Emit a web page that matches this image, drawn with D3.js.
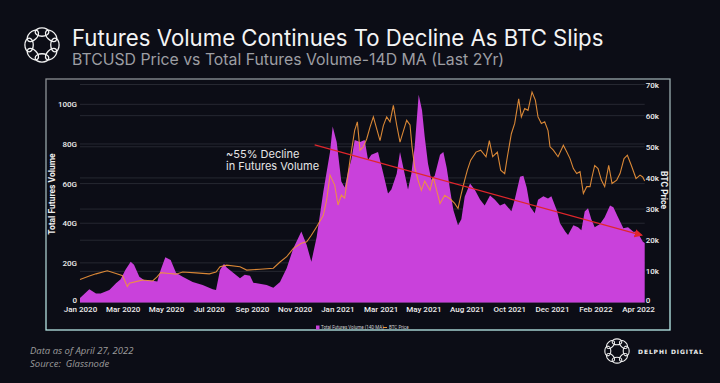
<!DOCTYPE html>
<html>
<head>
<meta charset="utf-8">
<script src="https://cdn.jsdelivr.net/npm/d3@7"></script>
<style>
  html, body { margin: 0; padding: 0; background: #0c0d16; }
  svg { display: block; }
</style>
</head>
<body>
<svg id="chart" width="720" height="383"></svg>
<script>
// Total futures volume, 14D MA (billions USD)
const volDates = [
  '2020-01-01', '2020-01-15', '2020-01-25', '2020-02-01', '2020-02-14', '2020-02-24', '2020-03-02', '2020-03-09',
  '2020-03-17', '2020-03-22', '2020-03-30', '2020-04-06', '2020-04-19', '2020-04-26', '2020-05-01', '2020-05-08',
  '2020-05-16', '2020-05-24', '2020-06-03', '2020-06-18', '2020-07-03', '2020-07-18', '2020-07-23', '2020-07-29',
  '2020-08-04', '2020-08-08', '2020-08-28', '2020-09-04', '2020-09-12', '2020-09-17', '2020-10-07', '2020-10-17',
  '2020-10-27', '2020-11-06', '2020-11-16', '2020-11-28', '2020-12-06', '2020-12-13', '2020-12-21', '2020-12-31',
  '2021-01-10', '2021-01-14', '2021-01-20', '2021-01-27', '2021-02-01', '2021-02-06', '2021-02-11', '2021-02-16',
  '2021-02-24', '2021-03-03', '2021-03-08', '2021-03-13', '2021-03-23', '2021-03-31', '2021-04-07', '2021-04-12',
  '2021-04-20', '2021-04-25', '2021-04-30', '2021-05-07', '2021-05-12', '2021-05-17', '2021-05-23', '2021-05-28',
  '2021-06-01', '2021-06-06', '2021-06-11', '2021-06-16', '2021-06-24', '2021-06-29', '2021-07-04', '2021-07-09',
  '2021-07-14', '2021-07-21', '2021-07-26', '2021-07-31', '2021-08-08', '2021-08-15', '2021-08-23', '2021-08-30',
  '2021-09-07', '2021-09-14', '2021-09-22', '2021-09-29', '2021-10-09', '2021-10-14', '2021-10-22', '2021-10-27',
  '2021-11-01', '2021-11-06', '2021-11-13', '2021-11-18', '2021-11-26', '2021-12-03', '2021-12-08', '2021-12-16',
  '2021-12-21', '2021-12-29', '2022-01-02', '2022-01-10', '2022-01-17', '2022-01-22', '2022-01-27', '2022-02-01',
  '2022-02-06', '2022-02-11', '2022-02-19', '2022-02-26', '2022-03-06', '2022-03-11', '2022-03-18', '2022-03-26',
  '2022-04-02', '2022-04-10', '2022-04-15', '2022-04-20', '2022-04-24', '2022-04-27'
];
const volValues = [
  2.3, 6.7, 4.6, 4.6, 6.3, 9.7, 11.7, 16.4,
  20.6, 19, 13, 11.3, 11, 10.6, 16.4, 22.8,
  21.5, 15, 13, 10.4, 8.8, 6.7, 6.3, 16.4,
  19.6, 17.6, 12.2, 14, 13.5, 10, 8.8, 7.5,
  10.4, 17.3, 27.4, 35.8, 29, 20.6, 33, 56,
  76, 88.8, 81, 61, 58, 66, 72, 82,
  81, 82, 72, 74.5, 76, 65, 55, 57,
  65, 76, 68, 57, 65, 78.7, 104.8, 97,
  83.7, 70, 62, 64, 74.5, 76, 68, 57,
  46.7, 39, 42, 53.4, 60, 57, 52, 49,
  54, 52, 49, 50, 46, 51.8, 63.5, 64,
  58, 48.4, 45, 51.8, 53.6, 52.5, 53.6, 46.7,
  40, 35.7, 34, 39, 38, 36.5, 45.9, 47.6,
  42, 38, 39.6, 43, 49, 48, 43, 37.5,
  38, 35.7, 35.7, 33.2, 30.8, 30
];

// BTC price (thousands USD)
const priceDates = [
  '2020-01-01', '2020-01-15', '2020-01-25', '2020-02-11', '2020-02-24', '2020-03-05', '2020-03-12', '2020-03-15',
  '2020-03-25', '2020-04-04', '2020-04-19', '2020-04-26', '2020-05-01', '2020-05-14', '2020-05-24', '2020-06-03',
  '2020-06-23', '2020-07-13', '2020-07-23', '2020-07-29', '2020-08-08', '2020-08-28', '2020-09-07', '2020-09-27',
  '2020-10-17', '2020-10-27', '2020-11-06', '2020-11-16', '2020-11-28', '2020-12-06', '2020-12-13', '2020-12-21',
  '2020-12-31', '2021-01-05', '2021-01-10', '2021-01-17', '2021-01-22', '2021-01-27', '2021-02-01', '2021-02-09',
  '2021-02-16', '2021-02-20', '2021-02-24', '2021-03-01', '2021-03-06', '2021-03-11', '2021-03-16', '2021-03-26',
  '2021-03-31', '2021-04-05', '2021-04-10', '2021-04-15', '2021-04-20', '2021-04-25', '2021-04-30', '2021-05-05',
  '2021-05-10', '2021-05-13', '2021-05-17', '2021-05-22', '2021-05-27', '2021-06-01', '2021-06-09', '2021-06-14',
  '2021-06-19', '2021-06-24', '2021-07-01', '2021-07-09', '2021-07-16', '2021-07-21', '2021-07-26', '2021-07-31',
  '2021-08-04', '2021-08-09', '2021-08-17', '2021-08-24', '2021-09-01', '2021-09-06', '2021-09-11', '2021-09-18',
  '2021-09-23', '2021-09-29', '2021-10-03', '2021-10-09', '2021-10-14', '2021-10-20', '2021-10-24', '2021-10-29',
  '2021-11-03', '2021-11-09', '2021-11-14', '2021-11-18', '2021-11-23', '2021-11-28', '2021-12-03', '2021-12-06',
  '2021-12-11', '2021-12-18', '2021-12-26', '2021-12-31', '2022-01-05', '2022-01-10', '2022-01-15', '2022-01-20',
  '2022-01-25', '2022-01-30', '2022-02-04', '2022-02-07', '2022-02-11', '2022-02-16', '2022-02-21', '2022-02-26',
  '2022-03-04', '2022-03-09', '2022-03-16', '2022-03-21', '2022-03-27', '2022-04-01', '2022-04-07', '2022-04-14',
  '2022-04-20', '2022-04-24', '2022-04-27'
];
const priceValues = [
  7.4, 8.5, 9.2, 10.2, 9.3, 8.6, 5.1, 6.2,
  6.7, 7.2, 6.9, 8.3, 9.6, 9.3, 9.1, 9.8,
  9.5, 9.2, 9.8, 11.5, 12, 11.5, 10.4, 10.7,
  11, 13, 14.7, 17.4, 19, 19.5, 21.6, 24.3,
  28, 33, 40.9, 37.7, 31.3, 34.5, 33.5, 45.7,
  55.3, 58, 48.9, 50, 52.5, 56.3, 59.6, 52,
  56.8, 59.6, 58, 63.3, 57, 51.5, 55, 58.5,
  57, 50, 43.5, 39.3, 36, 39, 36, 40.3,
  36, 31.8, 34.4, 33.3, 31.8, 30.2, 35, 39.3,
  42.5, 45.7, 48.3, 48.9, 46.8, 52, 46.8, 48.3,
  42.5, 41.4, 46.8, 54.2, 57.5, 65.4, 59.6, 62.3,
  61.7, 67.6, 65, 59.6, 57.5, 58, 55.2, 50,
  48.9, 46.8, 50.5, 48.4, 46.2, 43, 41.4, 42,
  35, 37.2, 37.2, 40.3, 44, 43, 39.3, 37.2,
  44, 38.2, 39.3, 41.4, 46.2, 47.3, 44, 39.8,
  40.9, 40.3, 39
];

// "~55% decline" trend arrow (start / end on the volume axis)
const trendDates = ['2020-12-18', '2022-04-22'];
const trendValues = [79.5, 34];

// axes
const xTickDates = ['2020-01-01', '2020-03-05', '2020-05-09', '2020-07-12', '2020-09-15', '2020-11-18', '2021-01-21',
  '2021-03-27', '2021-05-30', '2021-08-03', '2021-10-06', '2021-12-09', '2022-02-12', '2022-04-17'];
const xTickLabels = ['Jan 2020', 'Mar 2020', 'May 2020', 'Jul 2020', 'Sep 2020', 'Nov 2020', 'Jan 2021',
  'Mar 2021', 'May 2021', 'Aug 2021', 'Oct 2021', 'Dec 2021', 'Feb 2022', 'Apr 2022'];
const volTicks = [0, 20, 40, 60, 80, 100];
const volTickLabels = ['0', '20G', '40G', '60G', '80G', '100G'];
const priceTicks = [0, 10, 20, 30, 40, 50, 60, 70];
const priceTickLabels = ['0', '10k', '20k', '30k', '40k', '50k', '60k', '70k'];

const parse = d3.timeParse('%Y-%m-%d');
const volData = d3.zip(volDates.map(parse), volValues);
const priceData = d3.zip(priceDates.map(parse), priceValues);

const svg = d3.select('#chart');
const plot = { left: 80, right: 644.7, top: 84.5, bottom: 302.5 };

const x = d3.scaleTime()
  .domain([parse('2020-01-01'), parse('2022-04-27')])
  .range([plot.left, plot.right]);
const yVol = d3.scaleLinear().domain([0, 110]).range([plot.bottom, plot.top]);
const yPrice = d3.scaleLinear().domain([0, 70]).range([plot.bottom, plot.top]);

const defs = svg.append('defs');
const grad = defs.append('linearGradient')
  .attr('id', 'frame-grad')
  .attr('x1', 0).attr('y1', 0).attr('x2', 0.3).attr('y2', 1);
grad.append('stop').attr('offset', '0%').attr('stop-color', '#8a8d92');
grad.append('stop').attr('offset', '100%').attr('stop-color', '#b9ecea');

svg.append('rect').attr('width', 720).attr('height', 383).attr('fill', '#0c0d16');

// delphi ring logo
function ringLogo(cx, cy, r, sw) {
  const g = svg.append('g').attr('transform', `translate(${cx},${cy})`);
  d3.range(8).forEach((i) => {
    const a = (i * 360) / 8;
    g.append('ellipse')
      .attr('transform', `rotate(${a}) translate(0,${-r * 0.68})`)
      .attr('rx', r * 0.36)
      .attr('ry', r * 0.22)
      .attr('fill', 'none')
      .attr('stroke', '#f2f2f2')
      .attr('stroke-width', sw);
  });
}

ringLogo(42, 45, 19, 1.3);
ringLogo(617, 351, 13.5, 1.1);

svg.append('text')
  .attr('x', 72).attr('y', 46)
  .attr('fill', '#f4f4f4')
  .style('font-family', 'Inter, "Noto Sans", sans-serif')
  .style('font-size', '22.2px')
  .text('Futures Volume Continues To Decline As BTC Slips');

svg.append('text')
  .attr('x', 72).attr('y', 65)
  .attr('fill', '#9d9ea3')
  .style('font-family', 'Inter, "Noto Sans", sans-serif')
  .style('font-size', '15.8px')
  .text('BTCUSD Price vs Total Futures Volume-14D MA (Last 2Yr)');

// chart frame
svg.append('rect')
  .attr('x', 46).attr('y', 79)
  .attr('width', 624).attr('height', 251)
  .attr('fill', '#0c0d16')
  .attr('stroke', 'url(#frame-grad)')
  .attr('stroke-width', 1.3);

// grid lines for both axes
svg.append('g')
  .selectAll('line')
  .data(volTicks.concat([110]))
  .join('line')
  .attr('x1', plot.left).attr('x2', plot.right)
  .attr('y1', (d) => yVol(d)).attr('y2', (d) => yVol(d))
  .attr('stroke', '#262831')
  .attr('stroke-width', 1);

svg.append('g')
  .selectAll('line')
  .data(priceTicks)
  .join('line')
  .attr('x1', plot.left).attr('x2', plot.right)
  .attr('y1', (d) => yPrice(d)).attr('y2', (d) => yPrice(d))
  .attr('stroke', '#262831')
  .attr('stroke-width', 1);

// volume area
const area = d3.area()
  .x((d) => x(d[0]))
  .y0(yVol(0))
  .y1((d) => yVol(d[1]));

svg.append('path')
  .datum(volData)
  .attr('fill', '#c941db')
  .attr('d', area);

// price line
const line = d3.line()
  .x((d) => x(d[0]))
  .y((d) => yPrice(d[1]));

svg.append('path')
  .datum(priceData)
  .attr('fill', 'none')
  .attr('stroke', '#f0953a')
  .attr('stroke-opacity', 0.9)
  .attr('stroke-width', 1.1)
  .attr('d', line);

// trend arrow
defs.append('marker')
  .attr('id', 'arrow')
  .attr('viewBox', '0 0 10 10')
  .attr('refX', 8).attr('refY', 5)
  .attr('markerWidth', 7).attr('markerHeight', 7)
  .attr('orient', 'auto')
  .append('path')
  .attr('d', 'M0,0 L10,5 L0,10 z')
  .attr('fill', '#e0262b');

svg.append('line')
  .attr('x1', x(parse(trendDates[0]))).attr('y1', yVol(trendValues[0]))
  .attr('x2', x(parse(trendDates[1]))).attr('y2', yVol(trendValues[1]))
  .attr('stroke', '#e0262b')
  .attr('stroke-width', 1.2)
  .attr('marker-end', 'url(#arrow)');

const noteFont = 'Inter, "Noto Sans", sans-serif';
svg.append('text')
  .attr('x', 226).attr('y', 157.5)
  .attr('fill', '#e6e6e6')
  .style('font-family', noteFont)
  .style('font-size', '11px')
  .text('~55% Decline');
svg.append('text')
  .attr('x', 226).attr('y', 170)
  .attr('fill', '#e6e6e6')
  .style('font-family', noteFont)
  .style('font-size', '11px')
  .text('in Futures Volume');

// axes
const tickFont = 'Roboto, "Noto Sans", sans-serif';

const xAxis = d3.axisBottom(x)
  .tickValues(xTickDates.map(parse))
  .tickFormat((d, i) => xTickLabels[i])
  .tickSize(0)
  .tickPadding(4);

const gx = svg.append('g').attr('transform', `translate(0,${plot.bottom})`).call(xAxis);

const gl = svg.append('g').attr('transform', `translate(${plot.left - 1},0)`)
  .call(d3.axisLeft(yVol).tickValues(volTicks).tickFormat((d, i) => volTickLabels[i]).tickSize(0).tickPadding(2));

const gr = svg.append('g').attr('transform', `translate(${plot.right},0)`)
  .call(d3.axisRight(yPrice).tickValues(priceTicks).tickFormat((d, i) => priceTickLabels[i]).tickSize(0).tickPadding(1));

[gx, gl, gr].forEach((g) => {
  g.select('.domain').remove();
  g.selectAll('text')
    .attr('fill', '#ececec')
    .style('font-family', tickFont)
    .style('font-size', '8px')
    .style('font-weight', 500);
});
// lift the zero labels so they clear the date labels
gl.selectAll('.tick text').filter((d) => d === 0).attr('dy', '-0.05em');
gr.selectAll('.tick text').filter((d) => d === 0).attr('dy', '-0.05em');

svg.append('text')
  .attr('transform', 'translate(55,194) rotate(-90)')
  .attr('text-anchor', 'middle')
  .attr('fill', '#f0f0f0')
  .style('font-family', tickFont)
  .style('font-size', '8.5px')
  .style('font-weight', 700)
  .text('Total Futures Volume');

svg.append('text')
  .attr('transform', 'translate(661,190) rotate(90)')
  .attr('text-anchor', 'middle')
  .attr('fill', '#f0f0f0')
  .style('font-family', tickFont)
  .style('font-size', '8.5px')
  .style('font-weight', 700)
  .text('BTC Price');

// legend
const legend = svg.append('g').attr('transform', 'translate(316,327.5)');
legend.append('rect').attr('x', 0).attr('y', -2).attr('width', 3.5).attr('height', 4).attr('fill', '#c941db');
legend.append('text').attr('x', 5).attr('y', 1.5)
  .attr('fill', '#cfcfcf').style('font-family', tickFont).style('font-size', '4.5px')
  .text('Total Futures Volume (14D MA)');
legend.append('line').attr('x1', 67).attr('x2', 71).attr('y1', 0).attr('y2', 0)
  .attr('stroke', '#f0953a').attr('stroke-width', 1);
legend.append('text').attr('x', 73).attr('y', 1.5)
  .attr('fill', '#cfcfcf').style('font-family', tickFont).style('font-size', '4.5px')
  .text('BTC Price');

// footer
const foot = svg.append('text')
  .attr('fill', '#9c9c9c')
  .style('font-family', '"Open Sans", sans-serif')
  .style('font-size', '9.5px')
  .style('font-style', 'italic');
foot.append('tspan').attr('x', 30).attr('y', 354).text('Data as of April 27, 2022');
foot.append('tspan').attr('x', 30).attr('y', 367).attr('xml:space', 'preserve').text('Source:  Glassnode');

svg.append('text')
  .attr('x', 638).attr('y', 353.5)
  .attr('fill', '#f0f0f0')
  .style('font-family', '"DejaVu Sans", sans-serif')
  .style('font-size', '6px')
  .style('font-weight', 700)
  .style('letter-spacing', '0.9px')
  .text('DELPHI DIGITAL');
</script>
</body>
</html>
